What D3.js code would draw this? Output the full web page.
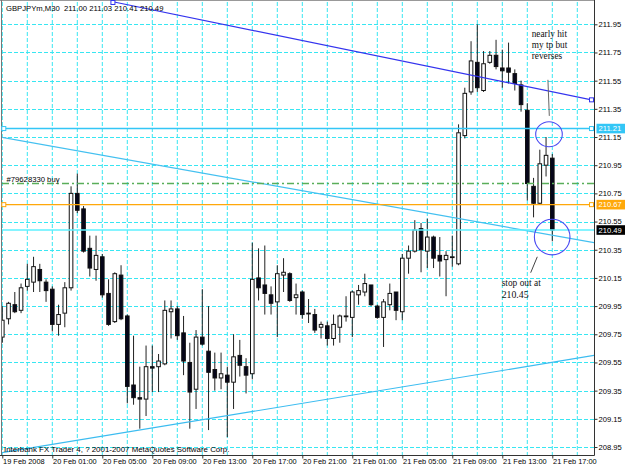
<!DOCTYPE html>
<html>
<head>
<meta charset="utf-8">
<script src="https://cdn.jsdelivr.net/npm/d3@7"></script>
<style>
  body { margin: 0; background: #fff; }
  svg { display: block; font-family: "Liberation Sans", Arial, sans-serif; }
</style>
</head>
<body>
<div id="chart"></div>
<script>
// GBPJPYm M30 bars, first bar = 19 Feb 2008 21:00
const opens = [
  209.73, 209.86, 209.96, 209.92, 210.09, 210.12, 210.21, 210.12, 210.07, 209.82,
  209.90, 210.08, 210.75, 210.64, 210.36, 210.21, 210.30, 210.04, 209.84, 210.17,
  209.88, 209.39, 209.30, 209.29, 209.52, 209.52, 209.54, 209.91, 209.93, 209.76,
  209.55, 209.36, 209.73, 209.63, 209.50, 209.44, 209.46, 209.41, 209.60, 209.52,
  209.47, 210.15, 210.10, 210.03, 209.98, 210.17, 210.18, 210.01, 210.05, 209.90,
  209.89, 209.80, 209.81, 209.72, 209.80, 209.88, 209.87, 210.03, 210.05, 210.10,
  209.95, 209.87, 209.96, 210.05, 209.91, 210.29, 210.34, 210.50, 210.34, 210.44,
  210.31, 210.28, 210.30, 210.25, 211.16, 211.47, 211.68, 211.48, 211.68, 211.73,
  211.64, 211.64, 211.60, 211.52, 211.34, 210.80, 210.68, 210.95, 211.00
];
const highs = [
  209.95, 209.98, 210.05, 210.11, 210.25, 210.30, 210.25, 210.14, 210.09, 209.96,
  210.12, 210.80, 210.89, 210.66, 210.45, 210.45, 210.32, 210.14, 210.19, 210.24,
  209.89, 209.74, 209.52, 209.67, 209.67, 209.61, 209.99, 209.99, 209.95, 209.88,
  209.69, 209.78, 210.07, 209.95, 209.62, 209.62, 209.52, 209.75, 209.71, 209.58,
  210.40, 210.36, 210.38, 210.09, 210.24, 210.29, 210.19, 210.11, 210.06, 210.00,
  209.93, 209.84, 209.84, 209.89, 209.89, 210.02, 210.06, 210.10, 210.18, 210.10,
  209.96, 210.00, 210.11, 210.05, 210.32, 210.38, 210.56, 210.54, 210.57, 210.45,
  210.44, 210.34, 210.45, 211.24, 211.50, 211.83, 211.95, 211.76, 211.76, 211.84,
  211.77, 211.82, 211.63, 211.55, 211.39, 210.86, 211.06, 211.15, 211.03
];
const lows = [
  209.69, 209.82, 209.90, 209.90, 210.06, 210.05, 210.05, 209.98, 209.77, 209.74,
  209.80, 210.06, 210.61, 210.33, 210.16, 210.13, 210.01, 209.81, 209.83, 209.85,
  209.26, 209.25, 209.08, 209.17, 209.34, 209.34, 209.53, 209.72, 209.71, 209.46,
  209.08, 209.22, 209.67, 209.07, 209.35, 209.36, 209.02, 209.22, 209.45, 209.33,
  209.43, 209.99, 209.89, 209.89, 209.73, 210.05, 209.98, 209.89, 209.86, 209.83,
  209.76, 209.72, 209.67, 209.67, 209.69, 209.84, 209.73, 209.96, 210.02, 209.95,
  209.86, 209.66, 209.92, 209.85, 209.85, 210.18, 210.33, 210.19, 210.22, 210.22,
  210.16, 210.02, 210.23, 210.24, 211.14, 211.45, 211.47, 211.47, 211.67, 211.63,
  211.50, 211.53, 211.48, 211.33, 210.70, 210.58, 210.67, 210.87, 210.41
];
const closes = [
  209.85, 209.97, 209.91, 210.08, 210.14, 210.23, 210.13, 210.06, 209.82, 209.89,
  210.08, 210.75, 210.63, 210.34, 210.22, 210.31, 210.03, 209.82, 210.18, 209.86,
  209.38, 209.30, 209.29, 209.52, 209.51, 209.56, 209.92, 209.93, 209.74, 209.56,
  209.34, 209.73, 209.68, 209.48, 209.44, 209.47, 209.41, 209.59, 209.53, 209.46,
  210.14, 210.08, 210.04, 209.97, 210.18, 210.19, 209.99, 210.03, 209.89, 209.90,
  209.78, 209.82, 209.72, 209.82, 209.88, 209.88, 210.05, 210.06, 210.11, 209.96,
  209.87, 209.98, 210.04, 209.92, 210.29, 210.34, 210.49, 210.35, 210.44, 210.29,
  210.27, 210.31, 210.30, 211.18, 211.46, 211.69, 211.50, 211.67, 211.73, 211.65,
  211.62, 211.61, 211.53, 211.38, 210.82, 210.68, 210.96, 211.02, 210.49
];

const priceTicks = [208.95, 209.15, 209.35, 209.55, 209.75, 209.95, 210.15, 210.35,
  210.55, 210.75, 210.95, 211.15, 211.35, 211.55, 211.75, 211.95];
const timeLabels = ["19 Feb 2008", "20 Feb 01:00", "20 Feb 05:00", "20 Feb 09:00",
  "20 Feb 13:00", "20 Feb 17:00", "20 Feb 21:00", "21 Feb 01:00", "21 Feb 05:00",
  "21 Feb 09:00", "21 Feb 13:00", "21 Feb 17:00"];
const timeLabelBars = [0, 8, 16, 24, 32, 40, 48, 56, 64, 72, 80, 88];

const header = "GBPJPYm,M30  211.00 211.03 210.41 210.49";
const footer = "Interbank FX Trader 4, ? 2001-2007 MetaQuotes Software Corp.";
const orderLabel = "#79628330 buy";

// horizontal levels
const tpLevel = 211.21, slLevel = 210.67, bidLevel = 210.49, orderLevel = 210.82;
// trend lines as [bar, price] anchor pairs
const upperTrend = [[17.7, 212.11], [94.7, 211.41]];
const midTrend = [[-0.4, 211.15], [94.7, 210.40]];
const lowTrend = [[-0.05, 208.91], [94.7, 209.60]];

const W = 625, H = 469;
const plotRight = 594, plotBottom = 455;
const uiFont = "'Liberation Sans', Arial, sans-serif";

const svg = d3.select("#chart").append("svg")
  .attr("width", W).attr("height", H);

const x = d3.scaleLinear().domain([0, 88]).range([2.3, 552.3]);
const y = d3.scaleLinear().domain([208.95, 211.95]).range([447, 24.3]);

svg.append("defs").append("clipPath").attr("id", "plot")
  .append("rect").attr("x", 2).attr("y", 1).attr("width", plotRight - 2).attr("height", plotBottom - 1);

// grid
const grid = svg.append("g").attr("stroke", "#38e6f2").attr("stroke-width", 1);
grid.selectAll("line.v").data(d3.range(0, 93, 4)).enter().append("line")
  .attr("x1", d => x(d)).attr("x2", d => x(d))
  .attr("y1", 2).attr("y2", plotBottom)
  .attr("stroke-dasharray", "4,2");
grid.selectAll("line.h").data(priceTicks).enter().append("line")
  .attr("x1", 2).attr("x2", plotRight)
  .attr("y1", d => Math.round(y(d)) + 0.5).attr("y2", d => Math.round(y(d)) + 0.5)
  .attr("stroke-dasharray", "4,2");

// frame
svg.append("line").attr("x1", 0).attr("x2", plotRight).attr("y1", 0.5).attr("y2", 0.5)
  .attr("stroke", "#999");
svg.append("line").attr("x1", 1.5).attr("x2", 1.5).attr("y1", 0).attr("y2", plotBottom)
  .attr("stroke", "#777");

// candles
const bars = opens.map((o, i) => ({i: i, o: o, h: highs[i], l: lows[i], c: closes[i]}));
const bw = 3.6;
const candles = svg.append("g").attr("clip-path", "url(#plot)");
candles.selectAll("line.wick").data(bars).enter().append("line")
  .attr("x1", d => x(d.i)).attr("x2", d => x(d.i))
  .attr("y1", d => y(d.h)).attr("y2", d => y(d.l))
  .attr("stroke", "#222").attr("stroke-width", 1);
candles.selectAll("rect.body").data(bars).enter().append("rect")
  .attr("x", d => x(d.i) - bw / 2)
  .attr("width", bw)
  .attr("y", d => y(Math.max(d.o, d.c)))
  .attr("height", d => Math.max(0.8, Math.abs(y(d.o) - y(d.c))))
  .attr("fill", d => d.c >= d.o ? "#fff" : "#06061a")
  .attr("stroke", "#111").attr("stroke-width", 1);

// objects over the chart
const objs = svg.append("g").attr("clip-path", "url(#plot)");

function trend(anchors, color) {
  const [a, b] = anchors;
  const slope = (b[1] - a[1]) / (b[0] - a[0]);
  const endBar = x.invert(plotRight);
  objs.append("line")
    .attr("x1", x(a[0])).attr("y1", y(a[1]))
    .attr("x2", x(endBar)).attr("y2", y(a[1] + slope * (endBar - a[0])))
    .attr("stroke", color).attr("stroke-width", 1.2);
}
trend(upperTrend, "#3434ee");
trend(midTrend, "#44c0f0");
trend(lowTrend, "#3cbcf0");

function hline(level, color, dash, width) {
  objs.append("line")
    .attr("x1", 2).attr("x2", plotRight)
    .attr("y1", y(level)).attr("y2", y(level))
    .attr("stroke", color).attr("stroke-width", width || 1.2)
    .attr("stroke-dasharray", dash || null);
}
hline(orderLevel, "#5aae5a", "7,3,2,3", 1.4);
hline(bidLevel, "#5ef0ff", null, 1.4);
hline(slLevel, "#ffa80a", null, 1.4);
hline(tpLevel, "#33c6f6", null, 1.4);

function marker(px, py, color) {
  svg.append("rect").attr("x", px - 2).attr("y", py - 2).attr("width", 4).attr("height", 4)
    .attr("fill", "#fff").attr("stroke", color).attr("stroke-width", 1);
}
const upSlope = (upperTrend[1][1] - upperTrend[0][1]) / (upperTrend[1][0] - upperTrend[0][0]);
marker(3.8, y(tpLevel), "#33c6f6");
marker(591.5, y(tpLevel), "#33c6f6");
marker(3.8, y(slLevel), "#ffa80a");
marker(591.5, y(slLevel), "#ffa80a");
marker(x(upperTrend[0][0]), 2.5, "#3434ee");
marker(591.5, y(upperTrend[0][1] + upSlope * (x.invert(591.5) - upperTrend[0][0])), "#3434ee");

// annotation circles and leader lines
objs.append("ellipse").attr("cx", x(87.47)).attr("cy", y(211.17))
  .attr("rx", 13.3).attr("ry", 12.5)
  .attr("fill", "none").attr("stroke", "#4a4af2").attr("stroke-width", 1.1);
objs.append("circle").attr("cx", x(87.98)).attr("cy", y(210.44)).attr("r", 17.8)
  .attr("fill", "none").attr("stroke", "#4a4af2").attr("stroke-width", 1.1);
objs.append("line").attr("x1", x(87.3)).attr("y1", y(211.556)).attr("x2", x(87.52)).attr("y2", y(211.30))
  .attr("stroke", "#666").attr("stroke-width", 1);
objs.append("line").attr("x1", x(84.54)).attr("y1", y(210.187)).attr("x2", x(85.6)).attr("y2", y(210.30))
  .attr("stroke", "#444").attr("stroke-width", 1);

const serif = "'Liberation Serif', 'Times New Roman', serif";
const note1 = ["nearly hit", "my tp but", "reverses"];
svg.append("g").selectAll("text").data(note1).enter().append("text")
  .attr("x", x(84.7)).attr("y", (d, i) => y(211.86) + i * 10.8)
  .attr("font-family", serif).attr("font-size", "9.3px").attr("fill", "#111")
  .text(d => d);
const note2 = ["stop out at", "210.45"];
svg.append("g").selectAll("text").data(note2).enter().append("text")
  .attr("x", x(79.9)).attr("y", (d, i) => y(210.09) + i * 11.5)
  .attr("font-family", serif).attr("font-size", (d, i) => i ? "9.8px" : "9.4px").attr("fill", "#111")
  .text(d => d);

svg.append("text").attr("x", 6).attr("y", 11).attr("font-size", "7.7px").attr("fill", "#000")
  .style("white-space", "pre").text(header);
svg.append("text").attr("x", 6.5).attr("y", y(orderLevel) - 1.6).attr("font-size", "7.7px")
  .attr("fill", "#000").text(orderLabel);
svg.append("text").attr("x", 4).attr("y", 452.3).attr("font-size", "7.9px")
  .attr("fill", "#000").text(footer);

// price axis
const yAxis = svg.append("g").attr("transform", "translate(" + (plotRight + 0.5) + ",0)")
  .call(d3.axisRight(y).tickValues(priceTicks).tickFormat(d3.format(".2f")).tickSize(3).tickPadding(1));
yAxis.select(".domain").remove();
yAxis.selectAll("text").attr("font-size", "7.6px").attr("font-family", uiFont).attr("fill", "#000");
yAxis.selectAll("line").attr("stroke", "#333");
svg.append("line").attr("x1", plotRight + 0.5).attr("x2", plotRight + 0.5).attr("y1", 0).attr("y2", plotBottom + 0.5)
  .attr("stroke", "#333");

// level labels on the price axis
const levelLabels = [
  {v: tpLevel, bg: "#33c6f6"},
  {v: slLevel, bg: "#ffa80a"},
  {v: bidLevel, bg: "#000"}
];
const ll = svg.append("g").selectAll("g").data(levelLabels).enter().append("g");
ll.append("rect").attr("x", plotRight + 2.5).attr("y", d => y(d.v) - 4.8)
  .attr("width", W - plotRight - 2.5).attr("height", 9.6).attr("fill", d => d.bg);
ll.append("text").attr("x", plotRight + 4.5).attr("y", d => y(d.v) + 2.7)
  .attr("font-size", "7.6px").attr("fill", "#fff").text(d => d.v.toFixed(2));

// time axis
const xAxis = svg.append("g").attr("transform", "translate(0," + (plotBottom + 0.5) + ")")
  .call(d3.axisBottom(x).tickValues(timeLabelBars).tickFormat((d, i) => timeLabels[i]).tickSize(3).tickPadding(1));
xAxis.select(".domain").remove();
xAxis.selectAll("text").attr("text-anchor", "start").attr("dx", "0.3").attr("dy", "0.6em")
  .attr("font-size", "7.4px").attr("font-family", uiFont).attr("fill", "#000");
xAxis.selectAll("line").attr("stroke", "#333");
svg.append("line").attr("x1", 0).attr("x2", plotRight + 0.5).attr("y1", plotBottom + 0.5).attr("y2", plotBottom + 0.5)
  .attr("stroke", "#333");
</script>
</body>
</html>
